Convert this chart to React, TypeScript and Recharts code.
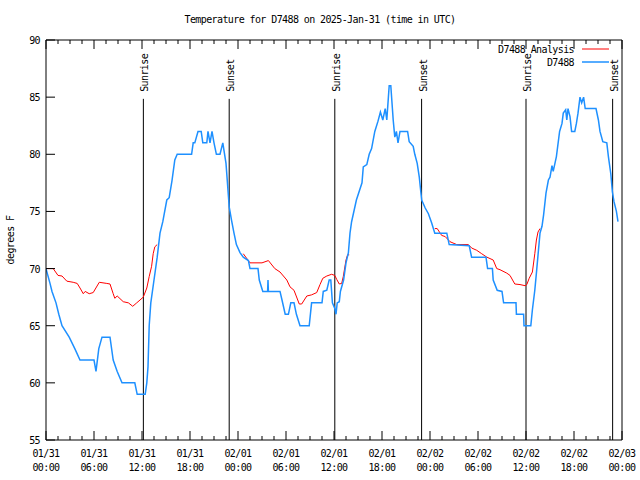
import React from "react";
import {
  LineChart,
  Line,
  XAxis,
  YAxis,
  ReferenceLine,
  Customized,
} from "recharts";

// hours since 2025-01-31 00:00 UTC
const blueHours = [
  0, 0.5, 0.75, 1.25, 1.6, 2, 2.9, 3.6, 4.25, 6, 6.25, 6.6, 7, 8, 8.4, 8.9, 9.5, 11.1, 11.4, 12.4,
  12.6, 12.75, 12.9, 13.1, 13.5, 13.9, 14.25, 14.6, 15.1, 15.4, 15.75, 16.1, 16.4, 18.2, 18.4, 18.6,
  19, 19.4, 19.6, 20.1, 20.25, 20.5, 20.75, 21, 21.3, 21.75, 22.1, 22.5, 22.66, 22.9, 23.2, 23.5,
  23.8, 24.25, 24.66, 25.3, 25.5, 26.5, 26.66, 27.1, 27.7, 27.75, 27.8, 29.25, 29.5, 29.9, 30.3,
  30.6, 31, 31.3, 31.75, 32.9, 33.2, 34.5, 34.66, 35.1, 35.4, 35.6, 35.8, 36.1, 36.25, 36.4, 36.66,
  36.8, 37.2, 37.5, 37.8, 38, 38.2, 38.8, 39.5, 39.66, 40.1, 40.4, 40.7, 41.1, 41.5, 41.8, 42.1,
  42.4, 42.6, 42.8, 42.9, 43.1, 43.3, 43.4, 43.6, 43.8, 44, 44.25, 45.2, 45.4, 45.9, 46.1, 46.4,
  46.66, 46.96, 47.4, 47.8, 48.2, 48.6, 50.1, 50.4, 52.9, 53.2, 55, 55.2, 55.8, 55.9, 56.4, 57,
  57.2, 58.75, 58.8, 59.7, 59.75, 60.6, 60.8, 61.1, 61.3, 61.75, 62, 62.2, 62.5, 62.8, 63, 63.25,
  63.4, 63.8, 64.2, 64.5, 64.66, 64.96, 65.1, 65.25, 65.5, 65.7, 66.1, 66.3, 66.5, 66.75, 66.96,
  67.2, 67.4, 68.75, 69.05, 69.25, 69.6, 70.1, 70.3, 70.6, 70.8, 71, 71.3, 71.5,
];
const blueTemps = [
  70, 68.7, 68, 67, 66, 65, 64, 63, 62, 62, 61, 63, 64, 64, 62, 61, 60, 60, 59, 59,
  60, 61.4, 65, 67, 69, 71, 73.1, 74.1, 76, 76.2, 77.7, 79.5, 80, 80, 81, 81,
  82, 82, 81, 81, 82, 81, 82, 81, 80, 80, 81, 79.2, 77.7, 75.4, 74.2, 73.1,
  72.1, 71.4, 71, 70.7, 70, 70, 69, 68, 68, 69, 68, 68, 67.25, 66, 66,
  67, 67, 66, 65, 65, 67, 67, 68, 68.1, 69, 69, 67, 66.5, 66, 67, 67.1,
  68, 69, 70.5, 71.4, 73.1, 74.1, 76, 77.5, 78.9, 79.1, 80, 80.5, 82, 82.9, 83.7, 83,
  84, 83, 85, 86, 86, 84, 83, 81.5, 82, 81, 82, 82, 81.1, 80.7, 80, 79.2,
  78, 76, 75.3, 74.8, 74, 73.1, 73.1, 72.1, 72, 71, 71, 70, 70, 69, 68.1, 68,
  67, 67, 66, 66, 65, 65, 66.4, 68.1, 69.6, 73.1, 73.7, 74.7, 76.6, 77.75, 78, 79,
  78.5, 79.8, 82, 82.7, 83.6, 83.9, 83, 84, 83.3, 82, 82, 82.7, 83.6, 85, 84.5,
  85, 84, 84, 83, 82, 81.1, 81, 79.8, 78.3, 76.7, 75.85, 75, 74.1,
];

const analysisHours = [
  0, 0.9, 1.5, 2, 2.6, 3.4, 3.9, 4.25, 4.66, 4.9, 5.4, 5.9, 6.66, 7.6, 8, 8.4, 8.6, 8.9, 9.66,
  10.3, 10.84, 11.34, 11.75, 12.16, 12.6, 12.9, 13.2, 13.4, 13.6, 13.9, 18,
  24.66, 25.5, 27, 27.8, 28.6, 29.25, 30.1, 30.5, 31, 31.66, 31.96, 32.6, 33.2, 33.84, 34.25,
  34.6, 35.1, 35.7, 36.1, 36.34, 36.66, 36.96, 37.16, 37.5, 37.7, 37.9, 42,
  48.6, 48.9, 49.46, 49.9, 50.5, 51.34, 52.8, 53.2, 53.84, 54.46, 55.1, 55.9, 56.34, 56.75,
  57.6, 58, 58.6, 59.25, 59.9, 60.1, 60.4, 60.8, 61.1, 61.3, 61.5, 61.75,
];
const analysisTemps = [
  70, 70, 69.4, 69.35, 68.9, 68.8, 68.7, 68.3, 67.8, 68, 67.8, 67.9, 68.8, 68.7, 68.65, 67.8, 67.4, 67.6, 67.1,
  67, 66.7, 67, 67.25, 67.5, 68.3, 69.3, 70.2, 71.3, 71.9, 72.1, null,
  71.3, 70.5, 70.5, 70.7, 70, 69.7, 69, 68.4, 68.1, 66.9, 66.9, 67.6, 67.7, 67.9, 68.6,
  69.15, 69.35, 69.5, 69.4, 69.05, 68.65, 68.7, 69.3, 70.75, 71.2, 71.2, null,
  73.5, 73.5, 72.9, 72.8, 72.35, 72.1, 72.1, 71.8, 71.6, 71.3, 71, 70.75, 70, 69.9,
  69.6, 69.4, 68.65, 68.6, 68.5, 68.6, 69.15, 69.7, 71.3, 72.5, 73.2, 73.5,
];

const sunHours = [12.17, 22.9, 36.1, 46.95, 60, 70.83];
const sunLabels = ["Sunrise", "Sunset", "Sunrise", "Sunset", "Sunrise", "Sunset"];

const majorTicks = [0, 6, 12, 18, 24, 30, 36, 42, 48, 54, 60, 66, 72];
const tickDates = ["01/31", "01/31", "01/31", "01/31", "02/01", "02/01", "02/01", "02/01", "02/02", "02/02", "02/02", "02/02", "02/03"];
const tickTimes = ["00:00", "06:00", "12:00", "18:00", "00:00", "06:00", "12:00", "18:00", "00:00", "06:00", "12:00", "18:00", "00:00"];
const yTicks = [55, 60, 65, 70, 75, 80, 85, 90];

const xTicks = majorTicks.flatMap((t, i) =>
  i < majorTicks.length - 1 ? [t, t + 1.5, t + 3, t + 4.5] : [t]
);

const blueData = blueHours.map((h, i) => ({ h, v: blueTemps[i] }));
const analysisData = analysisHours.map((h, i) => ({ h, v: analysisTemps[i] }));

const FONT = '"DejaVu Sans Mono", monospace';
const txt = { fontFamily: FONT, fontSize: 10, letterSpacing: -0.6, fill: "#000" };

function BottomTick({ x, y, payload }: any) {
  const i = majorTicks.indexOf(payload.value);
  const major = i >= 0;
  return (
    <g>
      <line x1={x} x2={x} y1={y} y2={y - (major ? 9 : 4)} stroke="#000" />
      {major && (
        <>
          <text x={x} y={y + 17} textAnchor="middle" style={txt}>{tickDates[i]}</text>
          <text x={x} y={y + 31} textAnchor="middle" style={txt}>{tickTimes[i]}</text>
        </>
      )}
    </g>
  );
}

function TopTick({ x, y, payload }: any) {
  const major = majorTicks.includes(payload.value);
  return <line x1={x} x2={x} y1={y} y2={y + (major ? 9 : 4)} stroke="#000" />;
}

function LeftTick({ x, y, payload }: any) {
  return (
    <g>
      <line x1={x} x2={x + 9} y1={y} y2={y} stroke="#000" />
      <text x={x - 6} y={y + 4} textAnchor="end" style={txt}>{payload.value}</text>
    </g>
  );
}

function RightTick({ x, y }: any) {
  return <line x1={x} x2={x - 9} y1={y} y2={y} stroke="#000" />;
}

function SunLabel({ viewBox, text }: any) {
  const x = viewBox.x + 5;
  const y = viewBox.y - 7;
  return (
    <text x={x} y={y} transform={`rotate(-90, ${x}, ${y})`} textAnchor="start" style={txt}>
      {text}
    </text>
  );
}

function Overlay() {
  return (
    <g>
      <text x={320} y={23} textAnchor="middle" style={txt}>
        Temperature for D7488 on 2025-Jan-31 (time in UTC)
      </text>
      <text x={14} y={240} transform="rotate(-90, 14, 240)" textAnchor="middle" style={txt}>
        degrees F
      </text>
      <text x={574} y={53} textAnchor="end" style={txt}>D7488 Analysis</text>
      <line x1={582} x2={609} y1={49} y2={49} stroke="#ff0000" />
      <text x={574} y={66} textAnchor="end" style={txt}>D7488</text>
      <line x1={582} x2={609} y1={62} y2={62} stroke="#1e90ff" strokeWidth={1.5} />
    </g>
  );
}

export default function App() {
  return (
    <div style={{ position: "absolute", left: 0, top: 0, background: "#fff" }}>
      <LineChart width={640} height={480} margin={{ top: 39, right: 17, bottom: 0, left: 0 }}>
        <XAxis
          xAxisId="b"
          type="number"
          dataKey="h"
          domain={[0, 72]}
          ticks={xTicks}
          interval={0}
          allowDataOverflow
          height={40}
          tickSize={0}
          tickMargin={0}
          tickLine={false}
          axisLine={{ stroke: "#000" }}
          tick={(p: any) => <BottomTick {...p} />}
        />
        <XAxis
          xAxisId="t"
          orientation="top"
          type="number"
          dataKey="h"
          domain={[0, 72]}
          ticks={xTicks}
          interval={0}
          allowDataOverflow
          height={1}
          tickSize={0}
          tickMargin={0}
          tickLine={false}
          axisLine={{ stroke: "#000" }}
          tick={(p: any) => <TopTick {...p} />}
        />
        <YAxis
          yAxisId="l"
          type="number"
          domain={[55, 90]}
          ticks={yTicks}
          interval={0}
          width={46}
          tickSize={0}
          tickMargin={0}
          tickLine={false}
          axisLine={{ stroke: "#000" }}
          tick={(p: any) => <LeftTick {...p} />}
        />
        <YAxis
          yAxisId="r"
          orientation="right"
          type="number"
          domain={[55, 90]}
          ticks={yTicks}
          interval={0}
          width={1}
          tickSize={0}
          tickMargin={0}
          tickLine={false}
          axisLine={{ stroke: "#000" }}
          tick={(p: any) => <RightTick {...p} />}
        />
        {sunHours.map((h, i) => (
          <ReferenceLine
            key={i}
            xAxisId="b"
            yAxisId="l"
            segment={[{ x: h, y: 55 }, { x: h, y: 84.85 }]}
            stroke="#000"
            label={<SunLabel text={sunLabels[i]} />}
          />
        ))}
        <Line
          xAxisId="b"
          yAxisId="l"
          data={analysisData}
          dataKey="v"
          type="linear"
          stroke="#ff0000"
          strokeWidth={1}
          dot={false}
          isAnimationActive={false}
        />
        <Line
          xAxisId="b"
          yAxisId="l"
          data={blueData}
          dataKey="v"
          type="linear"
          stroke="#1e90ff"
          strokeWidth={1.5}
          dot={false}
          isAnimationActive={false}
        />
        <Customized component={Overlay} />
      </LineChart>
    </div>
  );
}
